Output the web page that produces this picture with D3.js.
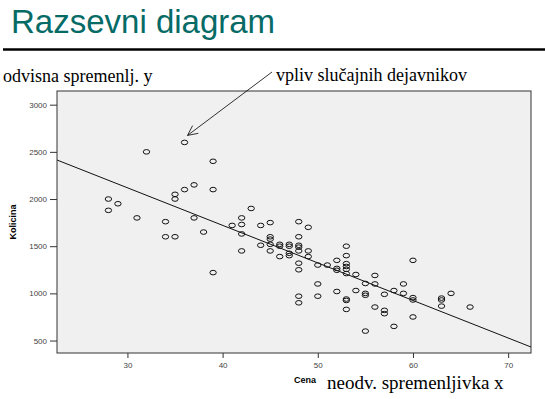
<!DOCTYPE html>
<html>
<head>
<meta charset="utf-8">
<script src="https://cdn.jsdelivr.net/npm/d3@7"></script>
<style>
  body { margin: 0; background: #fff; }
  svg { display: block; }
</style>
</head>
<body>
<script>
'use strict';
// Cena (x) and Kolicina (y)
let cena = [28, 28, 29, 31, 32, 34, 34, 35, 35, 35, 36, 36, 37, 37, 38, 39, 39, 39,
  41, 42, 42, 42, 42, 43, 44, 44, 45, 45, 45, 45, 45, 46, 46, 46, 47, 47, 47, 47,
  48, 48, 48, 48, 48, 48, 48, 48, 48, 49, 49, 49, 50, 50, 50, 51, 52, 52, 52, 52,
  53, 53, 53, 53, 53, 53, 53, 53, 53, 54, 54, 55, 55, 55, 55, 56, 56, 56, 57, 57, 57,
  58, 58, 59, 59, 60, 60, 60, 60, 63, 63, 63, 64, 66];
let kolicina = [2000, 1880, 1950, 1800, 2500, 1760, 1600, 2050, 2000, 1600, 2600, 2100, 2150, 1800, 1650, 2400, 2100, 1220,
  1720, 1800, 1730, 1630, 1450, 1900, 1720, 1510, 1750, 1600, 1575, 1520, 1450, 1520, 1500, 1390, 1520, 1500, 1425, 1400,
  1760, 1600, 1510, 1490, 1450, 1320, 1250, 970, 900, 1700, 1450, 1390, 1300, 1100, 970, 1300, 1350, 1265, 1245, 1020,
  1500, 1400, 1315, 1285, 1255, 1210, 940, 925, 830, 1200, 1030, 1105, 1000, 980, 600, 1190, 1100, 855, 990, 820, 785,
  1030, 650, 1100, 1000, 1350, 955, 930, 750, 950, 930, 865, 1000, 855];
let xTicks = [30, 40, 50, 60, 70];
let yTicks = [500, 1000, 1500, 2000, 2500, 3000];
// fitted line Kolicina = a + b * Cena
let fitA = 3313;
let fitB = -39.8;
let outlier = [36, 2600];

window.onload = function () {
  let svg = d3.select('body').append('svg')
    .attr('width', 545)
    .attr('height', 399);

  // title
  svg.append('text')
    .attr('x', 11)
    .attr('y', 33)
    .style('font-family', 'Arial, "Liberation Sans", sans-serif')
    .style('font-size', '33px')
    .attr('fill', '#066b66')
    .text('Razsevni diagram');

  svg.append('line')
    .attr('x1', 3).attr('x2', 545)
    .attr('y1', 49.5).attr('y2', 49.5)
    .attr('stroke', '#000')
    .attr('stroke-width', 2.5);

  let left = 57, right = 531, top = 91, bottom = 353;

  let x = d3.scaleLinear().domain([22.6, 72.4]).range([left, right]);
  let y = d3.scaleLinear().domain([368, 3145]).range([bottom, top]);

  svg.append('rect')
    .attr('x', left).attr('y', top)
    .attr('width', right - left).attr('height', bottom - top)
    .attr('fill', '#f0f0f0');

  let xAxis = d3.axisBottom(x).tickValues(xTicks).tickSize(5).tickPadding(4)
    .tickFormat(d3.format('d'));
  let yAxis = d3.axisLeft(y).tickValues(yTicks).tickSize(7).tickPadding(3)
    .tickFormat(d3.format('d'));

  let gx = svg.append('g')
    .attr('transform', 'translate(0,' + bottom + ')')
    .call(xAxis);
  let gy = svg.append('g')
    .attr('transform', 'translate(' + left + ',0)')
    .call(yAxis);

  [gx, gy].forEach((g) => {
    g.select('.domain').remove();
    g.selectAll('line').attr('stroke', '#333');
    g.selectAll('text')
      .style('font-family', 'Arial, "Liberation Sans", sans-serif')
      .style('font-size', '8px')
      .attr('fill', '#444');
  });

  // clip for the fit line
  svg.append('clipPath').attr('id', 'plotclip')
    .append('rect')
    .attr('x', left).attr('y', top)
    .attr('width', right - left).attr('height', bottom - top);

  let xs = x.domain();
  svg.append('line')
    .attr('clip-path', 'url(#plotclip)')
    .attr('x1', x(xs[0])).attr('y1', y(fitA + fitB * xs[0]))
    .attr('x2', x(xs[1])).attr('y2', y(fitA + fitB * xs[1]))
    .attr('stroke', '#111')
    .attr('stroke-width', 1);

  let points = cena.map((c, i) => ({ x: c, y: kolicina[i] }));
  svg.selectAll('.dot')
    .data(points)
    .enter()
    .append('ellipse')
    .attr('class', 'dot')
    .attr('cx', (d) => x(d.x))
    .attr('cy', (d) => y(d.y))
    .attr('rx', 3.2)
    .attr('ry', 2.3)
    .attr('fill', 'none')
    .attr('stroke', '#111')
    .attr('stroke-width', 1);

  // frame
  svg.append('rect')
    .attr('x', left).attr('y', top)
    .attr('width', right - left).attr('height', bottom - top)
    .attr('fill', 'none')
    .attr('stroke', '#333')
    .attr('stroke-width', 1);

  // axis titles
  svg.append('text')
    .attr('transform', 'translate(16,' + ((top + bottom) / 2) + ')rotate(-90)')
    .attr('text-anchor', 'middle')
    .style('font-family', 'Arial, "Liberation Sans", sans-serif')
    .style('font-size', '9px')
    .style('font-weight', 'bold')
    .text('Kolicina');

  svg.append('text')
    .attr('x', 305)
    .attr('y', 383)
    .attr('text-anchor', 'middle')
    .style('font-family', 'Arial, "Liberation Sans", sans-serif')
    .style('font-size', '9px')
    .style('font-weight', 'bold')
    .text('Cena');

  // slide annotations
  let serif = '"Liberation Serif", "Times New Roman", serif';
  svg.append('text')
    .attr('x', 3)
    .attr('y', 82)
    .style('font-family', serif)
    .style('font-size', '18px')
    .text('odvisna spremenlj. y');

  svg.append('text')
    .attr('x', 327)
    .attr('y', 389)
    .style('font-family', serif)
    .style('font-size', '19px')
    .text('neodv. spremenljivka x');

  svg.append('text')
    .attr('x', 276)
    .attr('y', 81)
    .style('font-family', serif)
    .style('font-size', '18px')
    .text('vpliv slučajnih dejavnikov');

  // arrow from the note to the outlying point
  let tx = x(outlier[0]) + 3, ty = y(outlier[1]) - 7;
  let sx = 272, sy = 72;
  svg.append('line')
    .attr('x1', sx).attr('y1', sy)
    .attr('x2', tx).attr('y2', ty)
    .attr('stroke', '#000')
    .attr('stroke-width', 0.8);
  let ang = Math.atan2(sy - ty, sx - tx);
  let head = 11, spread = 0.45;
  svg.append('path')
    .attr('d', 'M' + (tx + head * Math.cos(ang - spread)) + ',' + (ty + head * Math.sin(ang - spread)) +
      'L' + tx + ',' + ty +
      'L' + (tx + head * Math.cos(ang + spread)) + ',' + (ty + head * Math.sin(ang + spread)))
    .attr('fill', 'none')
    .attr('stroke', '#000')
    .attr('stroke-width', 0.8);
}
</script>
</body>
</html>
